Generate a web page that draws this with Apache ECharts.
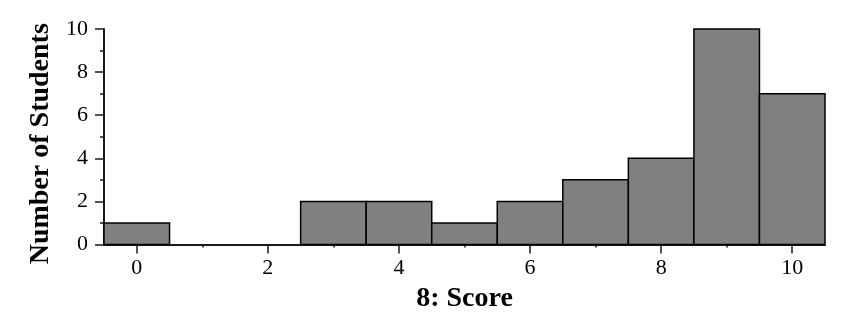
<!DOCTYPE html>
<html>
<head>
<meta charset="utf-8">
<script src="https://cdn.jsdelivr.net/npm/echarts@6/dist/echarts.min.js"></script>
<style>html,body{margin:0;padding:0;background:#fff}#c{width:842px;height:320px}</style>
</head>
<body>
<div id="c"></div>
<script>
const scores = [0, 1, 2, 3, 4, 5, 6, 7, 8, 9, 10];
const counts = [1, 0, 0, 2, 2, 1, 2, 3, 4, 10, 7];
const binWidth = 1;
const xMajorTicks = [0, 2, 4, 6, 8, 10];
const xMinorTicks = [1, 3, 5, 7, 9];
const yTicks = [0, 2, 4, 6, 8, 10];
const xTitle = '8: Score';
const yTitle = 'Number of Students';

const font = 'Liberation Serif';
const chart = echarts.init(document.getElementById('c'));
const data = scores.map((s, i) => [s, counts[i]]).filter(d => d[1] > 0);
chart.setOption({
  animation: false,
  grid: { left: 104, right: 17, top: 29, bottom: 75.5 },
  xAxis: [{
    type: 'value', min: scores[0] - binWidth / 2, max: scores[scores.length - 1] + binWidth / 2,
    name: xTitle, nameLocation: 'middle', nameGap: 40,
    nameTextStyle: { fontFamily: font, fontWeight: 'bold', fontSize: 28, color: '#000' },
    axisLine: { show: true, onZero: false, lineStyle: { color: '#1a1a1a', width: 2 } },
    axisTick: { show: true, customValues: xMajorTicks, length: 9, lineStyle: { color: '#1a1a1a', width: 1.5 } },
    axisLabel: { customValues: xMajorTicks, margin: 13, fontFamily: font, fontSize: 22, color: '#000' },
    splitLine: { show: false }
  }, {
    type: 'value', min: scores[0] - binWidth / 2, max: scores[scores.length - 1] + binWidth / 2,
    position: 'bottom',
    axisLine: { show: false, onZero: false },
    axisTick: { show: true, customValues: xMinorTicks, length: 3, lineStyle: { color: '#1a1a1a', width: 1.5 } },
    axisLabel: { show: false },
    splitLine: { show: false }
  }],
  yAxis: {
    type: 'value', min: 0, max: 10, interval: 2,
    name: yTitle, nameLocation: 'middle', nameGap: 48,
    nameTextStyle: { fontFamily: font, fontWeight: 'bold', fontSize: 28, color: '#000', padding: [0, 14, 0, 0] },
    axisLine: { show: true, onZero: false, lineStyle: { color: '#1a1a1a', width: 2 } },
    axisTick: { show: true, length: 9, lineStyle: { color: '#1a1a1a', width: 1.5 } },
    minorTick: { show: true, splitNumber: 2, length: 4, lineStyle: { color: '#1a1a1a', width: 1.5 } },
    axisLabel: { customValues: yTicks, margin: 16, fontFamily: font, fontSize: 22, color: '#000' },
    splitLine: { show: false }
  },
  series: [{
    type: 'custom',
    xAxisIndex: 0,
    data: data,
    renderItem: function (params, api) {
      const x = api.value(0), y = api.value(1);
      const p0 = api.coord([x - binWidth / 2, 0]);
      const p1 = api.coord([x + binWidth / 2, y]);
      return {
        type: 'rect',
        shape: { x: p0[0], y: p1[1], width: p1[0] - p0[0], height: p0[1] - p1[1] },
        style: { fill: '#808080', stroke: '#000', lineWidth: 1.5 }
      };
    }
  }]
});
</script>
</body>
</html>
